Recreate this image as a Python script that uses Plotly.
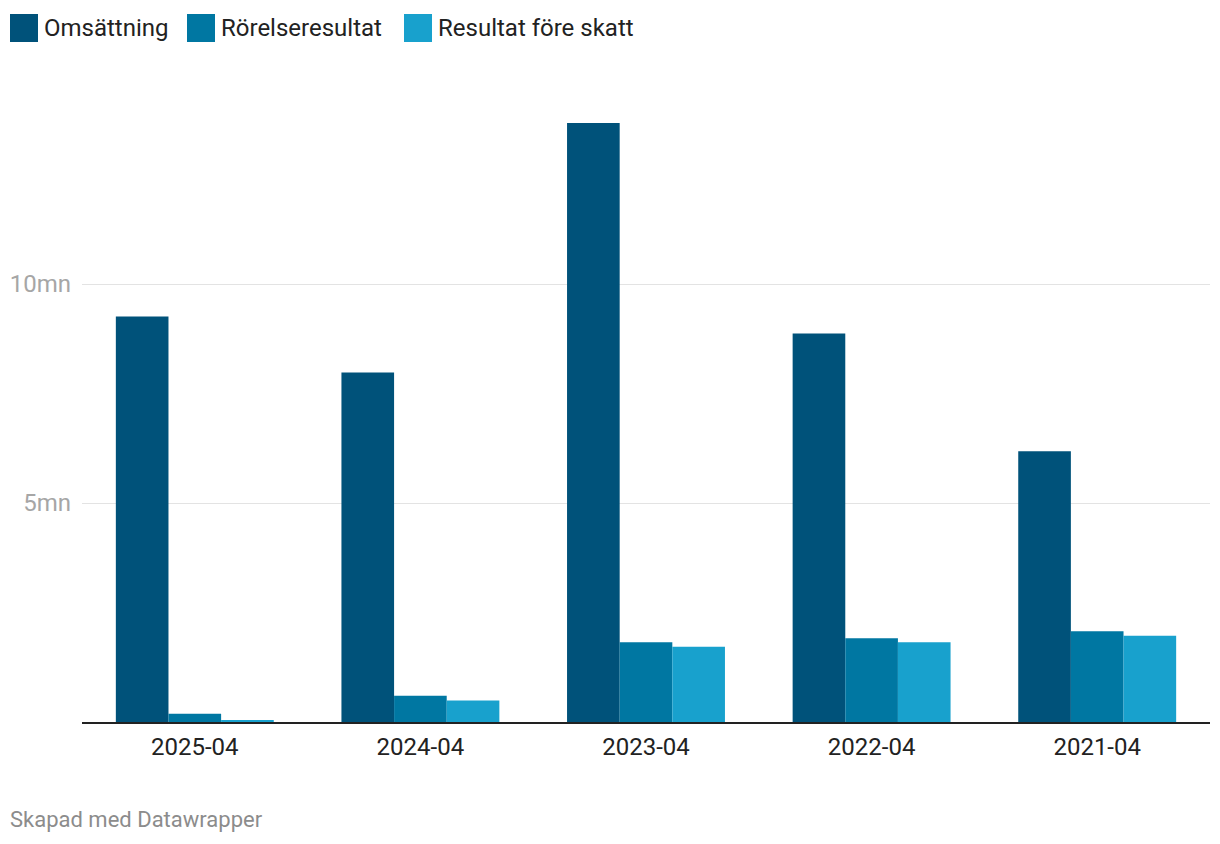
import plotly.graph_objects as go

categories = ["2025-04", "2024-04", "2023-04", "2022-04", "2021-04"]
omsattning = [9.26, 7.98, 13.68, 8.87, 6.18]
rorelseresultat = [0.19, 0.60, 1.82, 1.91, 2.07]
resultat_fore_skatt = [0.03, 0.49, 1.72, 1.82, 1.97]
series_names = ["Omsättning", "Rörelseresultat", "Resultat före skatt"]
colors = ["#00527a", "#0077a2", "#18a1cd"]
y_tickvals = [5, 10]
y_ticktext = ["5mn", "10mn"]

OFF = 8  # page body margin
W, H = 1220, 844
ML, MT = 82 - OFF, 80 - OFF
MR = W - (1210 - OFF)
MB = H - (722 - OFF)
PW, PH = W - ML - MR, H - MT - MB

fig = go.Figure()
for name, vals, col in zip(series_names, [omsattning, rorelseresultat, resultat_fore_skatt], colors):
    fig.add_trace(go.Bar(x=categories, y=vals, name=name, marker=dict(color=col, line=dict(width=0)),
                         hovertemplate="%{x}<br>" + name + ": %{y:.2f}mn<extra></extra>"))

font = "Roboto, 'Liberation Sans', sans-serif"

def px2x(px):
    return (px - OFF - ML) / PW

def px2y(py):
    return (H - MB - (py - OFF)) / PH

shapes = []
annotations = []
legend_x = [10, 187, 404]
for lx, name, col in zip(legend_x, series_names, colors):
    shapes.append(dict(type="rect", xref="paper", yref="paper", x0=px2x(lx), x1=px2x(lx + 28),
                       y0=px2y(42), y1=px2y(14), fillcolor=col, line=dict(width=0)))
    annotations.append(dict(text=name, xref="paper", yref="paper", x=px2x(lx + 32), y=px2y(28),
                            xanchor="left", yanchor="middle", showarrow=False,
                            font=dict(family=font, size=24, color="#222222")))
annotations.append(dict(text="Skapad med Datawrapper", xref="paper", yref="paper", x=px2x(8), y=px2y(820),
                        xanchor="left", yanchor="middle", showarrow=False,
                        font=dict(family=font, size=22, color="#8c8c8c")))

fig.update_layout(
    width=W, height=H,
    margin=dict(l=ML, r=MR, t=MT, b=MB, pad=0, autoexpand=False),
    plot_bgcolor="white", paper_bgcolor="white",
    barmode="group", bargap=0.30, bargroupgap=0,
    showlegend=False,
    shapes=shapes, annotations=annotations,
    font=dict(family=font),
    xaxis=dict(type="category", automargin=False, showgrid=False, showline=True, linecolor="#222222",
               linewidth=2, tickfont=dict(family=font, size=24, color="#222222"), ticks="",
               ticklabelstandoff=2, fixedrange=True),
    yaxis=dict(range=[0, 14.66], automargin=False, tickvals=y_tickvals, ticktext=y_ticktext,
               showgrid=True, gridcolor="#e3e3e3", gridwidth=1, zeroline=False, showline=False,
               ticks="", ticklabelstandoff=10,
               tickfont=dict(family=font, size=24, color="#a6a6a6"), fixedrange=True),
)

fig.write_html("out.html")
